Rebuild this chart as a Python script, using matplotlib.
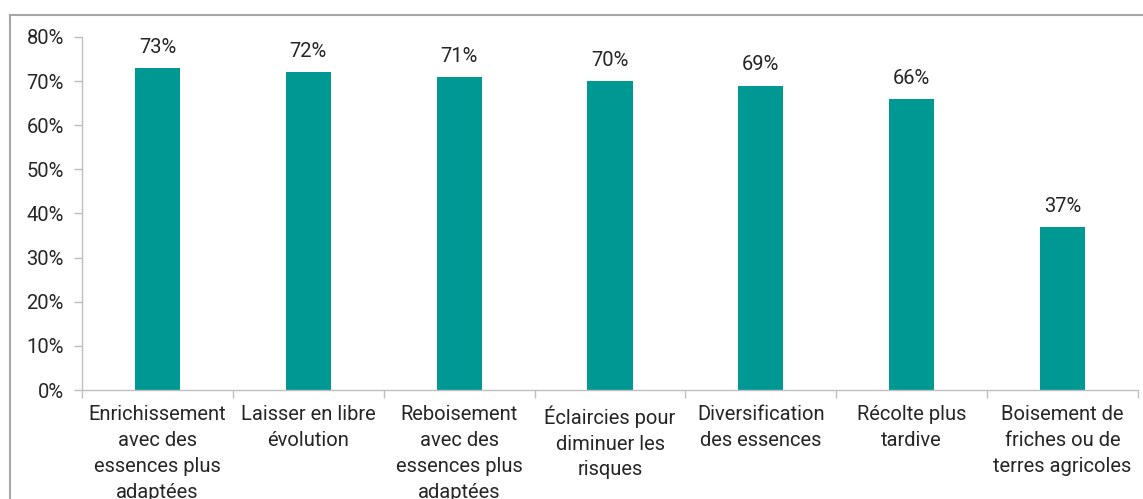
import matplotlib.pyplot as plt
from matplotlib.ticker import PercentFormatter, FixedLocator
from matplotlib.lines import Line2D

plt.rcParams['font.family'] = ['Roboto', 'DejaVu Sans']

# --- data ---
categories = [
    "Enrichissement\navec des\nessences plus\nadaptées",
    "Laisser en libre\névolution",
    "Reboisement\navec des\nessences plus\nadaptées",
    "Éclaircies pour\ndiminuer les\nrisques",
    "Diversification\ndes essences",
    "Récolte plus\ntardive",
    "Boisement de\nfriches ou de\nterres agricoles",
]
values = [73, 72, 71, 70, 69, 66, 37]
yticks = [0, 10, 20, 30, 40, 50, 60, 70, 80]

bar_color = "#009893"
grey = "#BFBFBF"
text_color = "#262626"
fs = 14.5

fig = plt.figure(figsize=(11.43, 4.99), dpi=100)
ax = fig.add_axes([82 / 1143, 1 - 390 / 499, (1138 - 82) / 1143, (390 - 37) / 499])

x = list(range(len(values)))
bars = ax.bar(x, values, width=0.30, color=bar_color, zorder=2)

for xi, v in zip(x, values):
    ax.annotate(f"{v}%", (xi, v), xytext=(0, 8), textcoords="offset points",
                ha="center", va="bottom", fontsize=fs, color=text_color)

ax.set_xlim(-0.5, len(values) - 0.5)
ax.set_ylim(0, 80)
ax.set_yticks(yticks)
ax.yaxis.set_major_formatter(PercentFormatter(decimals=0))

# category labels centred, ticks between categories
ax.set_xticks(x)
ax.set_xticklabels(categories, fontsize=fs, color=text_color, linespacing=1.45, va="top")
ax.tick_params(axis="x", length=0, pad=11)
ax.xaxis.set_minor_locator(FixedLocator([i - 0.5 for i in range(len(values) + 1)]))
ax.tick_params(axis="x", which="minor", length=6, color=grey, width=1)
ax.tick_params(axis="y", length=6, color=grey, width=1, labelsize=fs, labelcolor=text_color, pad=7)

for s in ["top", "right"]:
    ax.spines[s].set_visible(False)
for s in ["left", "bottom"]:
    ax.spines[s].set_color(grey)
    ax.spines[s].set_linewidth(1)

# outer frame (cut off at the right and bottom edges)
fx0, fy0 = 10 / 1143, 1 - 15 / 499
fig.add_artist(Line2D([fx0, fx0], [fy0, 0], transform=fig.transFigure, color="#A6A6A6", lw=1.5))
fig.add_artist(Line2D([fx0, 1], [fy0, fy0], transform=fig.transFigure, color="#A6A6A6", lw=1.5))

fig.savefig("out.png", dpi=100)
